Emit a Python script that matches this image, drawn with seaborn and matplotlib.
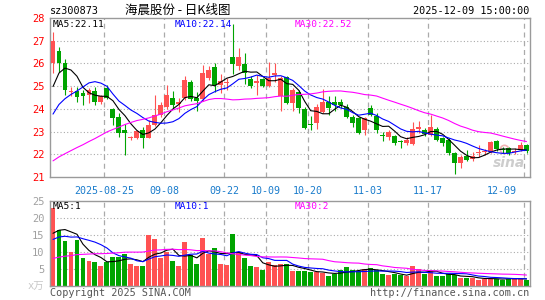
import numpy as np
import pandas as pd
import matplotlib
matplotlib.use('Agg')
import matplotlib.pyplot as plt
import seaborn as sns

# daily K-line data, 2025-08-12 .. 2025-12-09 (80 trading days)
opens = [26.00, 26.53, 26.00, 24.75, 24.80, 24.70, 24.62, 24.80, 24.28, 24.93,
         24.00, 23.65, 23.05, 22.72, 22.71, 23.05, 22.72, 23.30, 23.73, 24.10,
         24.50, 24.20, 24.50, 25.20, 24.48, 24.42, 25.35, 25.85, 25.03, 25.15,
         26.30, 25.87, 25.97, 25.30, 25.12, 25.30, 25.00, 25.50, 24.55, 25.40,
         24.25, 24.75, 24.00, 23.35, 23.37, 23.85, 24.30, 24.30, 24.30, 24.10,
         23.66, 23.60, 23.07, 24.03, 23.70, 22.85, 22.75, 22.80, 22.56, 22.50,
         22.45, 23.12, 23.05, 22.85, 23.10, 22.70, 22.63, 22.04, 21.60, 21.92,
         21.78, 22.05, 22.10, 22.10, 22.57, 22.22, 22.28, 22.10, 22.20, 22.42]
highs = [27.37, 26.73, 26.20, 24.97, 24.97, 24.82, 24.90, 24.97, 24.60, 25.04,
         24.05, 23.80, 23.35, 22.82, 23.08, 23.20, 23.50, 24.60, 24.30, 25.06,
         24.80, 24.50, 25.45, 25.25, 24.75, 25.94, 25.88, 26.00, 25.55, 25.35,
         27.75, 26.68, 26.46, 25.45, 25.50, 25.35, 26.05, 26.00, 25.45, 25.45,
         24.90, 24.85, 24.10, 23.70, 24.20, 24.88, 24.55, 24.55, 24.45, 24.20,
         23.75, 23.65, 23.62, 24.17, 23.80, 23.00, 23.08, 22.85, 22.65, 22.75,
         23.44, 23.45, 23.15, 23.73, 23.20, 22.75, 22.70, 22.10, 21.95, 22.20,
         22.10, 22.40, 22.25, 22.60, 22.62, 22.30, 22.30, 22.28, 22.55, 22.45]
lows = [25.60, 25.64, 24.60, 24.55, 24.30, 24.16, 24.26, 24.17, 24.20, 24.45,
        23.30, 22.78, 21.98, 22.65, 22.68, 22.27, 22.70, 23.25, 23.65, 24.00,
        24.05, 23.85, 24.40, 24.35, 23.90, 24.35, 25.25, 24.75, 24.70, 24.85,
        25.55, 25.70, 25.10, 24.90, 24.60, 24.95, 24.95, 25.20, 23.90, 24.20,
        23.90, 23.80, 23.12, 23.05, 23.10, 23.80, 23.73, 23.90, 24.02, 23.60,
        23.22, 22.90, 22.85, 23.70, 22.95, 22.60, 22.65, 22.42, 22.27, 22.40,
        22.40, 22.95, 22.80, 22.80, 22.60, 22.35, 21.97, 21.15, 21.38, 21.70,
        21.70, 21.90, 21.98, 22.05, 22.15, 22.05, 21.98, 22.00, 22.15, 22.05]
closes = [27.00, 26.03, 24.84, 24.78, 24.53, 24.56, 24.84, 24.30, 24.55, 24.50,
          23.60, 22.93, 22.93, 22.75, 23.03, 22.72, 23.30, 23.75, 24.15, 24.62,
          24.15, 24.30, 25.25, 24.42, 24.33, 25.60, 25.70, 25.05, 25.22, 25.18,
          25.98, 26.30, 25.60, 25.02, 25.22, 25.00, 25.35, 25.60, 25.35, 24.25,
          24.84, 24.05, 23.15, 23.30, 24.10, 24.32, 24.05, 24.15, 24.18, 23.66,
          23.37, 22.93, 23.58, 23.75, 23.07, 22.80, 22.98, 22.50, 22.52, 22.62,
          23.10, 23.18, 22.88, 23.22, 22.65, 22.48, 22.05, 21.60, 21.90, 21.76,
          21.92, 22.10, 22.12, 22.56, 22.22, 22.18, 22.05, 22.15, 22.42, 22.15]
volumes = [22.8, 16.6, 13.2, 10.0, 13.5, 8.2, 7.4, 7.0, 5.8, 7.2,
           8.5, 8.5, 9.3, 6.4, 5.8, 5.8, 15.0, 13.8, 8.1, 10.0,
           7.3, 5.8, 12.8, 9.1, 6.4, 14.0, 9.4, 11.3, 6.6, 6.3,
           15.3, 10.0, 8.2, 5.8, 5.5, 4.6, 7.0, 6.1, 6.4, 6.4,
           4.3, 4.3, 4.3, 4.1, 4.1, 3.8, 2.9, 3.6, 4.6, 5.5,
           4.6, 4.5, 4.9, 5.2, 4.6, 3.4, 3.1, 3.4, 3.1, 2.9,
           5.8, 5.0, 3.5, 4.5, 2.9, 2.9, 3.4, 3.1, 2.4, 2.4,
           2.4, 1.7, 2.2, 2.2, 2.2, 1.9, 2.2, 2.2, 2.2, 1.9]

# sessions before the window, estimated from where the MA lines start
prev_closes = [20.8, 20.6, 20.7, 20.5, 20.8, 20.6, 20.4, 20.2, 20.1, 20.3,
               19.8, 19.6, 20.0, 20.5, 21.1, 21.4, 21.2, 21.7, 21.5, 21.8,
               21.8, 22.3, 22.9, 23.0, 22.8, 23.05, 23.75, 25.2, 25.9]
prev_volumes = [4.8, 5.2, 4.5, 5.0, 5.6, 4.9, 4.4, 5.1, 5.8, 4.7,
                5.3, 4.6, 5.5, 6.2, 5.0, 5.9, 5.4, 6.1, 5.7, 6.3,
                9.5, 11.0, 12.5, 13.0, 13.5, 12.1, 12.2, 13.4, 17.0]

tick_idx = [9, 19, 29, 36, 43, 53, 63, 79]
tick_labels = ['2025-08-25', '09-08', '09-22', '10-09', '10-20', '11-03', '11-17', '12-09']

RED = '#ff5252'
GREEN = '#00a400'
GRID = '#aaaaaa'
FRAME = '#9a9a9a'
MA_COLORS = {5: 'black', 10: '#0000ff', 30: '#ff00ff'}

sns.set_style('white')
plt.rcParams['font.family'] = ['DejaVu Sans Mono', 'Noto Sans CJK SC']


def moving_averages(prev, cur):
    s = pd.Series(prev + cur)
    n0 = len(prev)
    return {w: s.rolling(w).mean().iloc[n0:].to_numpy() for w in (5, 10, 30)}


def px(x, y):
    return x / 545, 1 - y / 300


idx = np.arange(len(closes))
o = np.array(opens)
c = np.array(closes)
up = c >= o
colors = np.where(up, RED, GREEN)

fig = plt.figure(figsize=(5.45, 3.0), dpi=100)
ax = fig.add_axes([50 / 545, 1 - 177 / 300, 479.5 / 545, 159 / 300])
axv = fig.add_axes([50 / 545, 1 - 286 / 300, 479.5 / 545, 85 / 300])

for a in (ax, axv):
    a.set_xlim(-0.5, len(closes) - 0.5)
    for sp in a.spines.values():
        sp.set_color(FRAME)
        sp.set_linewidth(1.0)
    for t in tick_idx:
        a.axvline(t - 0.45, color=GRID, lw=0.9, ls=(0, (4, 3)), zorder=0)
    a.tick_params(length=0)

# price panel
ax.set_ylim(21, 28)
for y in range(22, 28):
    ax.axhline(y, color=GRID, lw=0.8, ls=(0, (1, 2)), zorder=0)

# sina watermark behind the candles
ax.text(76.0, 21.3, 'sina', color='#cdcdcd', fontsize=10, fontweight='bold',
        style='italic', ha='center', va='bottom', family='DejaVu Sans', zorder=1)
ax.plot([75.3], [22.25], marker='o', ms=6, mfc='none', mec='#f2b4b4', mew=1.2, zorder=1)

ax.vlines(idx, lows, highs, colors=colors, lw=0.8, zorder=2)
body = np.maximum(np.abs(c - o), 0.045)
ax.bar(idx, body, bottom=np.minimum(o, c), width=0.82, color=colors, lw=0, zorder=3)

ma = moving_averages(prev_closes, closes)
for w, col in MA_COLORS.items():
    sns.lineplot(x=idx, y=ma[w], ax=ax, color=col, lw=0.8, zorder=4)

ax.set_yticks(range(21, 29))
ax.set_yticklabels([str(v) for v in range(21, 29)], color='#ff0000', fontsize=7.5)
ax.tick_params(axis='y', pad=4)
ax.set_xticks([])
for t, lab in zip(tick_idx, tick_labels):
    if t == tick_idx[-1]:
        ax.text(t - 1.7, 20.6, lab, ha='right', va='top', color='#1a7ccc', fontsize=7.2)
    else:
        ax.text(t - 0.45, 20.6, lab, ha='center', va='top', color='#1a7ccc', fontsize=7.2)

ax.text(0.0, 27.9, 'MA5:22.11', color='black', fontsize=6.8, va='top')
ax.text(20.3, 27.9, 'MA10:22.14', color='#0000ff', fontsize=6.8, va='top')
ax.text(40.3, 27.9, 'MA30:22.52', color='#ff00ff', fontsize=6.8, va='top')

# volume panel
axv.set_ylim(0, 25)
for y in (5, 10, 15, 20):
    axv.axhline(y, color=GRID, lw=0.8, ls=(0, (1, 2)), zorder=0)
axv.bar(idx, volumes, width=0.82, color=colors, lw=0, zorder=2)
vma = moving_averages(prev_volumes, volumes)
for w, col in MA_COLORS.items():
    sns.lineplot(x=idx, y=vma[w], ax=axv, color=col, lw=0.8, zorder=4)
axv.set_xticks([])
axv.set_yticks([0, 5, 10, 15, 20, 25])
axv.set_yticklabels(['x万', '5', '10', '15', '20', '25'], color='#a0a0a0', fontsize=7.5)
axv.get_yticklabels()[0].set_color('#c8c8c8')
axv.tick_params(axis='y', pad=4)
axv.text(0.0, 24.7, 'MA5:1', color='black', fontsize=6.8, va='top')
axv.text(20.3, 24.7, 'MA10:1', color='#0000ff', fontsize=6.8, va='top')
axv.text(40.3, 24.7, 'MA30:2', color='#ff00ff', fontsize=6.8, va='top')

# header and footer
fig.text(*px(50, 11), 'sz300873', fontsize=7.3, va='center', ha='left', color='black')
fig.text(*px(178, 10), '海晨股份 - 日K线图', fontsize=9, va='center', ha='center',
         family=['Noto Sans CJK SC', 'DejaVu Sans'], color='black')
fig.text(*px(529, 11), '2025-12-09 15:00:00', fontsize=7.3, va='center', ha='right', color='black')
fig.text(*px(50, 293), 'Copyright 2025 SINA.COM', fontsize=7.3, va='center', ha='left', color='#555555')
fig.text(*px(529, 293), 'http://finance.sina.com.cn', fontsize=7.3, va='center', ha='right', color='#555555')

fig.savefig('out.png', dpi=100)
plt.close(fig)
